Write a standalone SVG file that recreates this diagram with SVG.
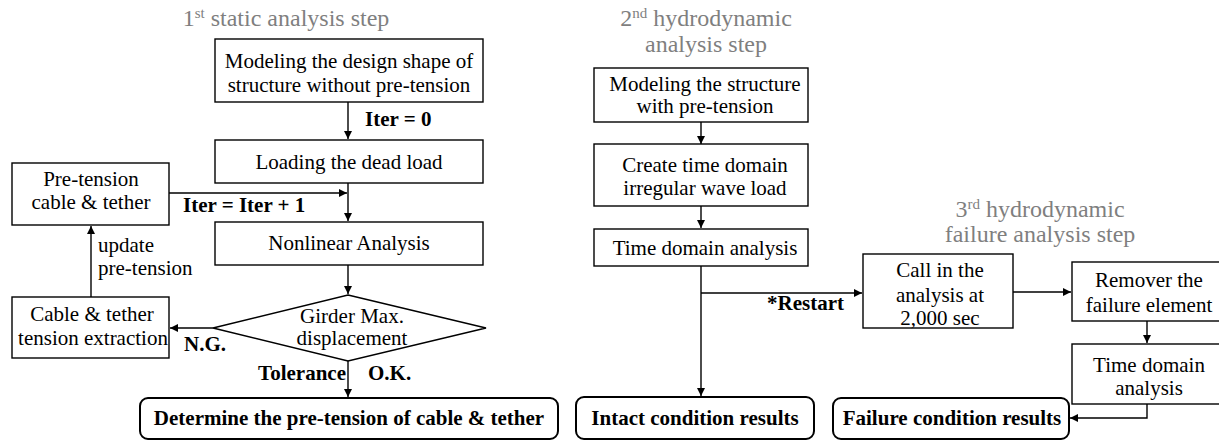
<svg xmlns="http://www.w3.org/2000/svg" width="1219" height="441" viewBox="0 0 1219 441">
  <style>
    .box { fill: #fff; stroke: #000; stroke-width: 1.4; }
    .rbox { fill: #fff; stroke: #000; stroke-width: 2; }
    .t { font-family: "Liberation Serif", "Times New Roman", serif; font-size: 21px; fill: #000; }
    .c { text-anchor: middle; }
    .b { font-weight: bold; }
    .title { font-family: "Liberation Serif", "Times New Roman", serif; font-size: 24px; fill: #7f7f7f; text-anchor: middle; }
    .sup { font-size: 15px; }
    .ln { fill: none; stroke: #000; stroke-width: 1.4; }
  </style>
  <defs>
    <marker id="arrow" viewBox="0 0 10 10" refX="10" refY="5" markerWidth="9" markerHeight="8" markerUnits="userSpaceOnUse" orient="auto">
      <path d="M0,0 L10,5 L0,10 Z" fill="#000"/>
    </marker>
  </defs>

  <!-- step titles -->
  <g id="titles">
    <text class="title" x="286" y="26">1<tspan class="sup" dy="-8">st</tspan><tspan dy="8"> static analysis step</tspan></text>
    <text class="title" x="706" y="26">2<tspan class="sup" dy="-8">nd</tspan><tspan dy="8"> hydrodynamic</tspan></text>
    <text class="title" x="706" y="52">analysis step</text>
    <text class="title" x="1040" y="217">3<tspan class="sup" dy="-8">rd</tspan><tspan dy="8"> hydrodynamic</tspan></text>
    <text class="title" x="1040" y="242">failure analysis step</text>
  </g>

  <!-- connectors -->
  <g id="connectors">
    <line class="ln" x1="348" y1="102" x2="348" y2="139" marker-end="url(#arrow)"/>
    <line class="ln" x1="348" y1="183" x2="348" y2="221" marker-end="url(#arrow)"/>
    <line class="ln" x1="169" y1="193" x2="347" y2="193" marker-end="url(#arrow)"/>
    <line class="ln" x1="348" y1="265" x2="348" y2="294" marker-end="url(#arrow)"/>
    <line class="ln" x1="213" y1="328" x2="170" y2="328" marker-end="url(#arrow)"/>
    <line class="ln" x1="91" y1="297" x2="91" y2="226" marker-end="url(#arrow)"/>
    <line class="ln" x1="348" y1="361" x2="348" y2="397" marker-end="url(#arrow)"/>
    <line class="ln" x1="701" y1="122" x2="701" y2="144" marker-end="url(#arrow)"/>
    <line class="ln" x1="701" y1="206" x2="701" y2="228" marker-end="url(#arrow)"/>
    <line class="ln" x1="701" y1="266" x2="701" y2="396" marker-end="url(#arrow)"/>
    <line class="ln" x1="701" y1="293" x2="862" y2="293" marker-end="url(#arrow)"/>
    <line class="ln" x1="1013" y1="292" x2="1071" y2="292" marker-end="url(#arrow)"/>
    <line class="ln" x1="1147" y1="321" x2="1147" y2="343" marker-end="url(#arrow)"/>
    <polyline class="ln" points="1147,404 1147,418 1070,418" marker-end="url(#arrow)"/>
  </g>

  <!-- connector labels -->
  <g id="labels">
    <text class="t b" x="365" y="126">Iter = 0</text>
    <text class="t b" x="183" y="212">Iter = Iter + 1</text>
    <text class="t" x="98" y="252">update</text>
    <text class="t" x="98" y="275">pre-tension</text>
    <text class="t b" x="184" y="351">N.G.</text>
    <text class="t b" x="346" y="380" text-anchor="end">Tolerance</text>
    <text class="t b" x="368" y="380">O.K.</text>
    <text class="t b" x="767" y="310">*Restart</text>
  </g>

  <!-- static analysis step -->
  <g id="model-design">
    <rect class="box" x="215" y="39" width="268" height="63"/>
    <text class="t c" x="349" y="68">Modeling the design shape of</text>
    <text class="t c" x="349" y="92">structure without pre-tension</text>
  </g>
  <g id="dead-load">
    <rect class="box" x="215" y="140" width="268" height="43"/>
    <text class="t c" x="349" y="169">Loading the dead load</text>
  </g>
  <g id="pretension">
    <rect class="box" x="12" y="163" width="157" height="62"/>
    <text class="t c" x="91" y="186">Pre-tension</text>
    <text class="t c" x="91" y="209">cable &amp; tether</text>
  </g>
  <g id="nonlinear">
    <rect class="box" x="215" y="222" width="268" height="43"/>
    <text class="t c" x="349" y="250">Nonlinear Analysis</text>
  </g>
  <g id="girder-check">
    <polygon class="box" points="348,295 486,328 348,361 213,328"/>
    <text class="t c" x="352" y="323">Girder Max.</text>
    <text class="t c" x="352" y="345">displacement</text>
  </g>
  <g id="tension-extraction">
    <rect class="box" x="12" y="297" width="157" height="61"/>
    <text class="t c" x="92" y="321">Cable &amp; tether</text>
    <text class="t c" x="93" y="345">tension extraction</text>
  </g>
  <g id="determine">
    <rect class="rbox" x="140" y="398" width="418" height="41" rx="8"/>
    <text class="t c b" x="349" y="425">Determine the pre-tension of cable &amp; tether</text>
  </g>

  <!-- hydrodynamic analysis step -->
  <g id="model-pretension">
    <rect class="box" x="594" y="68" width="214" height="54"/>
    <text class="t c" x="705" y="91">Modeling the structure</text>
    <text class="t c" x="705" y="113">with pre-tension</text>
  </g>
  <g id="wave-load">
    <rect class="box" x="594" y="144" width="214" height="62"/>
    <text class="t c" x="705" y="172">Create time domain</text>
    <text class="t c" x="705" y="195">irregular wave load</text>
  </g>
  <g id="time-domain">
    <rect class="box" x="594" y="229" width="214" height="37"/>
    <text class="t c" x="705" y="255">Time domain analysis</text>
  </g>
  <g id="intact">
    <rect class="rbox" x="576" y="397" width="238" height="42" rx="8"/>
    <text class="t c b" x="695" y="425">Intact condition results</text>
  </g>

  <!-- failure analysis step -->
  <g id="call-in">
    <rect class="box" x="863" y="254" width="150" height="74"/>
    <text class="t c" x="940" y="277">Call in the</text>
    <text class="t c" x="940" y="302">analysis at</text>
    <text class="t c" x="940" y="325">2,000 sec</text>
  </g>
  <g id="remove-element">
    <rect class="box" x="1072" y="262" width="154" height="59"/>
    <text class="t c" x="1149" y="287">Remover the</text>
    <text class="t c" x="1149" y="312">failure element</text>
  </g>
  <g id="failure-time-domain">
    <rect class="box" x="1072" y="344" width="154" height="60"/>
    <text class="t c" x="1149" y="372">Time domain</text>
    <text class="t c" x="1149" y="395">analysis</text>
  </g>
  <g id="failure">
    <rect class="rbox" x="833" y="398" width="236" height="41" rx="8"/>
    <text class="t c b" x="952" y="425">Failure condition results</text>
  </g>
</svg>
